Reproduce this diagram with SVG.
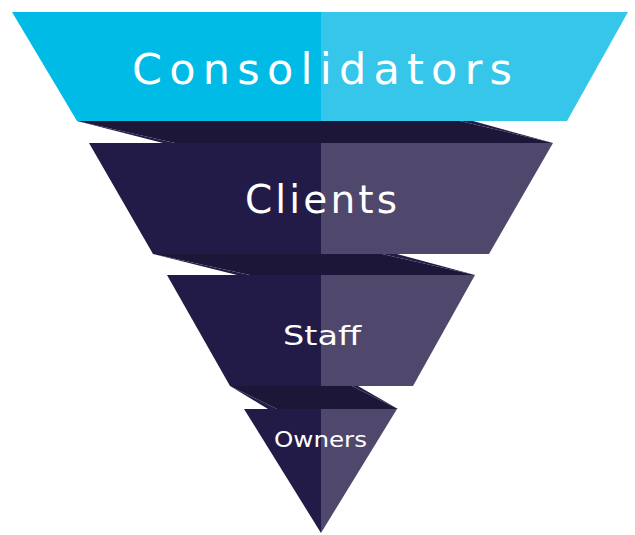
<svg xmlns="http://www.w3.org/2000/svg" width="635" height="535" viewBox="0 0 635 535">
<style>
.cl{fill:#00bbe5}.cr{fill:#35c6ea}
.dl{fill:#231b47}.dr{fill:#4f476c}
.band{fill:#1c1638}.sl{fill:#231b48}
text{fill:#ffffff;font-family:"DejaVu Sans","Liberation Sans",sans-serif;text-anchor:middle}
</style>
<rect width="635" height="535" fill="#ffffff"/>
<g id="connectors">
<polygon class="band" points="77,121 460,121 553,143 175,143"/>
<polygon class="sl" points="77,121 175,143 163,143"/>
<polygon class="sl" points="460,121 473,121 553,143"/>
<polygon class="band" points="153,254 382,254 475,275 250,275"/>
<polygon class="sl" points="153,254 250,275 237,275"/>
<polygon class="sl" points="382,254 397,254 475,275"/>
<polygon class="band" points="230,386 352,386 398,409 277,409"/>
<polygon class="sl" points="230,386 277,409 268,409"/>
<polygon class="sl" points="352,386 358,386 398,409"/>
</g>
<g id="consolidators">
<polygon class="cl" points="12,12 321,12 321,121 77,121"/>
<polygon class="cr" points="321,12 628,12 567,121 321,121"/>
<text x="322" y="84" font-size="43" textLength="380" lengthAdjust="spacing">Consolidators</text>
</g>
<g id="clients">
<polygon class="dl" points="89,143 321,143 321,254 153,254"/>
<polygon class="dr" points="321,143 553,143 489,254 321,254"/>
<text x="321" y="213" font-size="39" textLength="152" lengthAdjust="spacing">Clients</text>
</g>
<g id="staff">
<polygon class="dl" points="167,275 321,275 321,386 230,386"/>
<polygon class="dr" points="321,275 475,275 413,386 321,386"/>
<text x="322" y="345" font-size="27" textLength="78" lengthAdjust="spacingAndGlyphs">Staff</text>
</g>
<g id="owners">
<polygon class="dl" points="244,409 321,409 321,533"/>
<polygon class="dr" points="321,409 397,409 321,533"/>
<text x="320.5" y="447" font-size="20.5" textLength="93" lengthAdjust="spacingAndGlyphs">Owners</text>
</g>
</svg>
